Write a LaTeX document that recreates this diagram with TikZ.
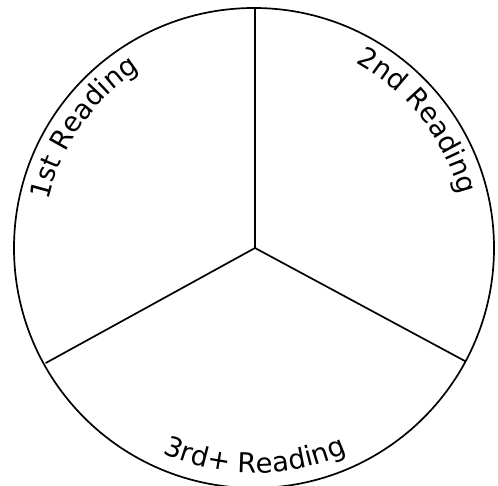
\documentclass[tikz,border=0pt]{standalone}
\usepackage{fontspec}
\usetikzlibrary{decorations.text,calc}
\newfontfamily\lblfont{DejaVu Sans}
\tikzset{
  rim/.style={line width=1.7bp},
  spoke/.style={line width=1.7bp},
  topspoke/.style={line width=1.2bp},
  arclabel/.style={decorate, decoration={text along path, text align=center}}
}
\begin{document}
\begin{tikzpicture}[x=1bp,y=1bp]
\useasboundingbox (0,0) rectangle (498,486);
\coordinate (c) at (254,238);
\coordinate (hub) at (255,238);
\draw[rim] (c) circle[radius=240];
\coordinate (top) at (255,478);
\coordinate (ll) at ($(hub)+(208.8:239)$);
\coordinate (lr) at ($(hub)+(-28.3:239)$);
\draw[topspoke] (hub) -- (top);
\draw[spoke] (hub) -- (ll);
\draw[spoke] (hub) -- (lr);
\path[arclabel, decoration={text={|\lblfont\fontsize{27.5}{32}\selectfont|1st Reading}}]
  ($(hub)+(178:212)$) arc[start angle=178, end angle=112, radius=212];
\path[arclabel, decoration={text={|\lblfont\fontsize{27.5}{32}\selectfont|2nd Reading}}]
  ($(hub)+(71:211)$) arc[start angle=71, end angle=5, radius=211];
\path[arclabel, decoration={text={|\lblfont\fontsize{27.5}{32}\selectfont|3rd+ Reading}}]
  ($(hub)+(237:225)$) arc[start angle=237, end angle=303, radius=225];
\end{tikzpicture}
\end{document}
